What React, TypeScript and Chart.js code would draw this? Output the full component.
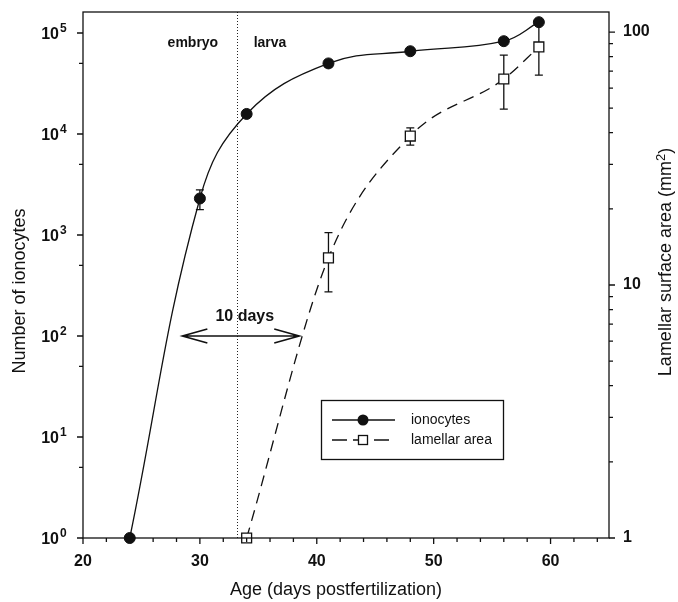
import { useEffect, useRef } from 'react';
import { Chart, registerables } from 'chart.js';
Chart.register(...registerables);

// ---- data ----
const ionAges = [24, 30, 34, 41, 48, 56, 59];
const ionocytes = [1, 2300, 15800, 50000, 66000, 83000, 128000];
const ionLow = [1, 1780, 14600, 46000, 62000, 77000, 128000];
const ionHigh = [1, 2800, 17000, 54000, 70000, 90000, 128000];

const lamAges = [34, 41, 48, 56, 59];
const lamellar = [1, 12.8, 38.8, 65.2, 87.3];
const lamLow = [1, 9.4, 35.7, 49.6, 67.6];
const lamHigh = [1, 16.1, 41.8, 81, 112];

const xMajor = [20, 30, 40, 50, 60];
const xMinor = [22, 24, 26, 28, 32, 34, 36, 38, 42, 44, 46, 48, 52, 54, 56, 58, 62, 64];
const leftExps = [0, 1, 2, 3, 4, 5];
const leftMinor = [5, 50, 500, 5000, 50000];
const rightMajor = [1, 10, 100];
const rightMinor = [2, 3, 4, 5, 6, 7, 8, 9, 20, 30, 40, 50, 60, 70, 80, 90];

const stageBoundary = 33.2;
const arrowFrom = 28.5;
const arrowTo = 38.5;
const arrowLevel = 100;

const FONT = '"Liberation Sans", Arial, Helvetica, sans-serif';

function drawErr(ctx: CanvasRenderingContext2D, xs: number[], lo: number[], hi: number[], xs_: any, ys: any) {
  ctx.save();
  ctx.strokeStyle = '#111';
  ctx.lineWidth = 1.3;
  for (let i = 0; i < xs.length; i++) {
    if (lo[i] === hi[i]) continue;
    const px = xs_.getPixelForValue(xs[i]);
    const y1 = ys.getPixelForValue(lo[i]);
    const y2 = ys.getPixelForValue(hi[i]);
    ctx.beginPath();
    ctx.moveTo(px, y1); ctx.lineTo(px, y2);
    ctx.moveTo(px - 4, y1); ctx.lineTo(px + 4, y1);
    ctx.moveTo(px - 4, y2); ctx.lineTo(px + 4, y2);
    ctx.stroke();
  }
  ctx.restore();
}

const deco = {
  id: 'deco',
  beforeDatasetsDraw(chart: any) {
    const { ctx, chartArea: a, scales } = chart;
    const x = scales.x, y = scales.y, y2 = scales.y2;
    ctx.save();
    ctx.setLineDash([1, 2]);
    ctx.lineWidth = 1;
    ctx.strokeStyle = '#222';
    const px = Math.round(x.getPixelForValue(stageBoundary)) + 0.5;
    ctx.beginPath(); ctx.moveTo(px, a.top); ctx.lineTo(px, a.bottom); ctx.stroke();
    ctx.restore();
    drawErr(ctx, ionAges, ionLow, ionHigh, x, y);
    drawErr(ctx, lamAges, lamLow, lamHigh, x, y2);
  },
  afterDraw(chart: any) {
    const { ctx, chartArea: a, scales } = chart;
    const x = scales.x, y = scales.y, y2 = scales.y2;
    ctx.save();
    ctx.strokeStyle = '#111';
    ctx.fillStyle = '#111';
    ctx.lineWidth = 1.3;
    ctx.setLineDash([]);
    // frame
    ctx.strokeRect(a.left, a.top, a.right - a.left, a.bottom - a.top);
    // ticks
    ctx.beginPath();
    xMajor.forEach(v => { const p = x.getPixelForValue(v); ctx.moveTo(p, a.bottom); ctx.lineTo(p, a.bottom + 6); });
    xMinor.forEach(v => { const p = x.getPixelForValue(v); ctx.moveTo(p, a.bottom); ctx.lineTo(p, a.bottom + 4); });
    leftExps.forEach(e => { const p = y.getPixelForValue(Math.pow(10, e)); ctx.moveTo(a.left, p); ctx.lineTo(a.left - 6, p); });
    leftMinor.forEach(v => { const p = y.getPixelForValue(v); ctx.moveTo(a.left, p); ctx.lineTo(a.left - 4, p); });
    rightMajor.forEach(v => { const p = y2.getPixelForValue(v); ctx.moveTo(a.right, p); ctx.lineTo(a.right + 6, p); });
    rightMinor.forEach(v => { const p = y2.getPixelForValue(v); ctx.moveTo(a.right, p); ctx.lineTo(a.right + 4, p); });
    ctx.stroke();

    // tick labels
    ctx.font = `bold 16px ${FONT}`;
    ctx.textAlign = 'center';
    ctx.textBaseline = 'middle';
    xMajor.forEach(v => ctx.fillText(String(v), x.getPixelForValue(v), a.bottom + 24));
    ctx.textAlign = 'left';
    rightMajor.forEach(v => ctx.fillText(String(v), a.right + 14, y2.getPixelForValue(v)));
    leftExps.forEach(e => {
      const p = y.getPixelForValue(Math.pow(10, e));
      ctx.font = `bold 16px ${FONT}`;
      ctx.textAlign = 'right';
      ctx.textBaseline = 'alphabetic';
      ctx.fillText('10', a.left - 24, p + 6);
      ctx.font = `bold 12px ${FONT}`;
      ctx.textAlign = 'left';
      ctx.fillText(String(e), a.left - 23, p - 1);
    });

    // axis titles
    ctx.font = `18px ${FONT}`;
    ctx.textBaseline = 'middle';
    ctx.textAlign = 'center';
    ctx.fillText('Age (days postfertilization)', 336, 590);
    ctx.save();
    ctx.translate(20, 291);
    ctx.rotate(-Math.PI / 2);
    ctx.fillText('Number of ionocytes', 0, 0);
    ctx.restore();
    ctx.save();
    ctx.translate(666, 262);
    ctx.rotate(-Math.PI / 2);
    const p1 = 'Lamellar surface area (mm';
    const p3 = ')';
    ctx.font = `18px ${FONT}`;
    const w1 = ctx.measureText(p1).width;
    const w3 = ctx.measureText(p3).width;
    ctx.font = `13px ${FONT}`;
    const w2 = ctx.measureText('2').width;
    const W = w1 + w2 + w3;
    let sx = -W / 2;
    ctx.textAlign = 'left';
    ctx.font = `18px ${FONT}`;
    ctx.fillText(p1, sx, 0);
    sx += w1;
    ctx.font = `13px ${FONT}`;
    ctx.fillText('2', sx, -5);
    sx += w2;
    ctx.font = `18px ${FONT}`;
    ctx.fillText(p3, sx, 0);
    ctx.restore();

    // stage labels
    ctx.font = `bold 14px ${FONT}`;
    ctx.textAlign = 'center';
    ctx.fillText('embryo', x.getPixelForValue(29.4), a.top + 31);
    ctx.fillText('larva', x.getPixelForValue(36.0), a.top + 31);

    // 10 days arrow
    const ax1 = x.getPixelForValue(arrowFrom);
    const ax2 = x.getPixelForValue(arrowTo);
    const ay = y.getPixelForValue(arrowLevel);
    ctx.lineWidth = 1.6;
    ctx.beginPath();
    ctx.moveTo(ax1, ay); ctx.lineTo(ax2, ay);
    ctx.moveTo(ax1 + 25, ay - 7); ctx.lineTo(ax1, ay); ctx.lineTo(ax1 + 25, ay + 7);
    ctx.moveTo(ax2 - 25, ay - 7); ctx.lineTo(ax2, ay); ctx.lineTo(ax2 - 25, ay + 7);
    ctx.stroke();
    ctx.font = `bold 16px ${FONT}`;
    ctx.fillText('10 days', (ax1 + ax2) / 2 + 4, ay - 19);

    // legend
    ctx.lineWidth = 1.3;
    ctx.strokeRect(321.5, 400.5, 182, 59);
    ctx.beginPath();
    ctx.moveTo(332, 420); ctx.lineTo(395, 420); ctx.stroke();
    ctx.beginPath(); ctx.arc(363, 420, 5.5, 0, Math.PI * 2); ctx.fill();
    ctx.setLineDash([15, 6]);
    ctx.beginPath(); ctx.moveTo(332, 440); ctx.lineTo(395, 440); ctx.stroke();
    ctx.setLineDash([]);
    ctx.fillStyle = '#fff';
    ctx.fillRect(358.5, 435.5, 9, 9);
    ctx.strokeRect(358.5, 435.5, 9, 9);
    ctx.fillStyle = '#111';
    ctx.font = `14px ${FONT}`;
    ctx.textAlign = 'left';
    ctx.fillText('ionocytes', 411, 420);
    ctx.fillText('lamellar area', 411, 440);
    ctx.restore();
  },
};

export default function App() {
  const ref = useRef<HTMLCanvasElement>(null);
  useEffect(() => {
    const chart = new Chart(ref.current!, {
      type: 'line',
      data: {
        datasets: [
          {
            label: 'lamellar area',
            data: lamAges.map((v, i) => ({ x: v, y: lamellar[i] })),
            yAxisID: 'y2',
            borderColor: '#111',
            borderWidth: 1.3,
            borderDash: [11, 7],
            cubicInterpolationMode: 'monotone',
            pointStyle: 'rect',
            pointRadius: 7,
            pointBackgroundColor: '#fff',
            pointBorderColor: '#111',
            pointBorderWidth: 1.3,
            clip: false as any,
          },
          {
            label: 'ionocytes',
            data: ionAges.map((v, i) => ({ x: v, y: ionocytes[i] })),
            yAxisID: 'y',
            borderColor: '#111',
            borderWidth: 1.3,
            tension: 0.4,
            pointStyle: 'circle',
            pointRadius: 5.5,
            pointBackgroundColor: '#111',
            pointBorderColor: '#111',
            pointBorderWidth: 1,
            clip: false as any,
          },
        ],
      },
      options: {
        responsive: false,
        animation: false,
        events: [],
        layout: { padding: { top: 12, left: 0, right: 0, bottom: 0 } },
        plugins: { legend: { display: false }, tooltip: { enabled: false } },
        scales: {
          x: {
            type: 'linear', min: 20, max: 65,
            ticks: { display: false }, grid: { display: false }, border: { display: false },
            afterFit: (s: any) => { s.height = 64; },
          },
          y: {
            type: 'logarithmic', position: 'left', min: 1, max: Math.pow(10, 5.208),
            ticks: { display: false }, grid: { display: false }, border: { display: false },
            afterFit: (s: any) => { s.width = 83; },
          },
          y2: {
            type: 'logarithmic', position: 'right', min: 1, max: 120,
            ticks: { display: false }, grid: { display: false }, border: { display: false },
            afterFit: (s: any) => { s.width = 69; },
          },
        },
      },
      plugins: [deco],
    });
    return () => chart.destroy();
  }, []);
  return (
    <div style={{ position: 'absolute', left: 0, top: 0, width: 678, height: 602, background: '#fff' }}>
      <canvas ref={ref} width={678} height={602} style={{ display: 'block' }} />
    </div>
  );
}
